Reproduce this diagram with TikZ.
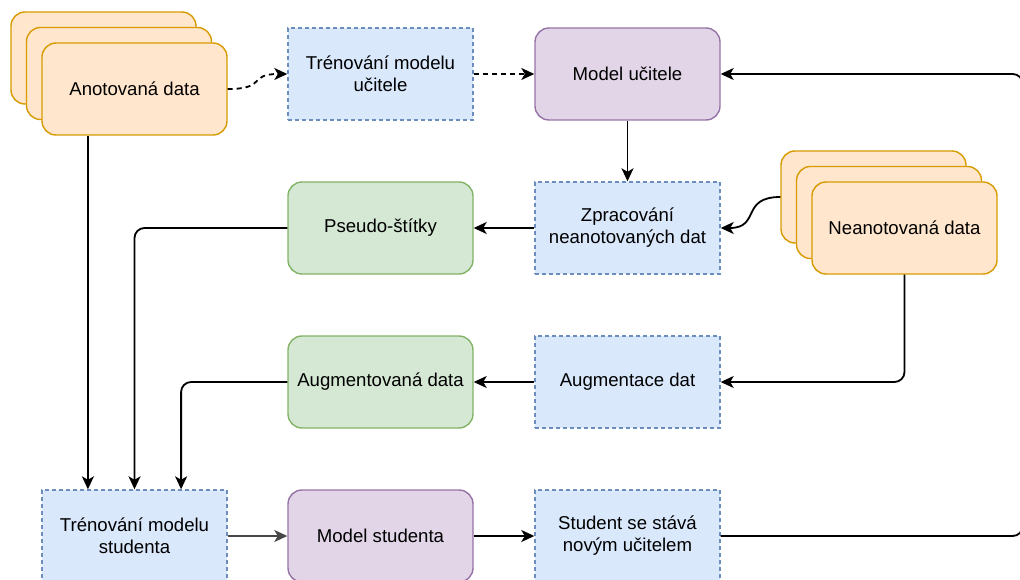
\documentclass[tikz,border=0pt]{standalone}
\usepackage{fontspec}
\setmainfont{Liberation Sans}
\usetikzlibrary{arrows.meta,calc}

\definecolor{orfill}{HTML}{FFE6CC}
\definecolor{ordraw}{HTML}{D79B00}
\definecolor{blfill}{HTML}{DAE8FC}
\definecolor{bldraw}{HTML}{6C8EBF}
\definecolor{pufill}{HTML}{E1D5E7}
\definecolor{pudraw}{HTML}{9673A6}
\definecolor{grfill}{HTML}{D5E8D4}
\definecolor{grdraw}{HTML}{82B366}

\tikzset{
  box/.style={minimum width=185pt, minimum height=92pt, inner sep=0pt,
    align=center, line width=1.4pt,
    font=\fontsize{18.6}{22}\selectfont},
  databox/.style={box, rounded corners=14pt, fill=orfill, draw=ordraw},
  stepbox/.style={box, fill=blfill, draw=bldraw, dash pattern=on 4pt off 3pt},
  modelbox/.style={box, rounded corners=14pt, fill=pufill, draw=pudraw},
  resultbox/.style={box, rounded corners=14pt, fill=grfill, draw=grdraw},
  tip/.style={-{Stealth[length=13pt,width=12pt,inset=3.5pt]}},
  flow/.style={line width=1.8pt, tip},
}

\begin{document}
\begin{tikzpicture}[x=1pt, y=-1pt]
\useasboundingbox (0,0) rectangle (1020,580);

% annotated data (stack of three)
\node[databox] (aB) at (103.5,58) {};
\node[databox] (aM) at (119,73.5) {};
\node[databox] (aF) at (134.5,89) {Anotovaná data};

% teacher branch
\node[stepbox]  (trainT) at (380.5,74) {Trénování modelu\\učitele};
\node[modelbox] (modelT) at (627.5,74) {Model učitele};
\node[stepbox]  (proc)   at (627.5,228) {Zpracování\\neanotovaných dat};
\node[resultbox] (pseudo) at (380.5,228) {Pseudo-štítky};

% unannotated data (stack of three)
\node[databox] (nB) at (873.5,197) {};
\node[databox] (nM) at (889,212.5) {};
\node[databox] (nF) at (904.5,228) {Neanotovaná data};

% augmentation
\node[stepbox]   (aug)  at (627.5,382) {Augmentace dat};
\node[resultbox] (augd) at (380.5,382) {Augmentovaná data};

% student branch
\node[stepbox]  (trainS) at (134.5,536) {Trénování modelu\\studenta};
\node[modelbox] (modelS) at (380.5,536) {Model studenta};
\node[stepbox]  (newT)   at (627.5,536) {Student se stává\\novým učitelem};

% inputs of the student training
\coordinate (inA) at ($(trainS.north west)!0.25!(trainS.north east)$);
\coordinate (inP) at (trainS.north);
\coordinate (inG) at ($(trainS.north west)!0.75!(trainS.north east)$);

% connectors
\draw[flow, dash pattern=on 5pt off 4pt] (aF.east) .. controls +(40,0) and +(-40,0) .. (trainT.west);
\draw[flow, dash pattern=on 5pt off 4pt] (trainT.east) -- (modelT.west);
\draw[flow] (modelT.south) -- (proc.north);
\draw[flow] (nB.west) .. controls +(-40,0) and +(40,0) .. (proc.east);
\draw[flow] (proc.west) -- (pseudo.east);
\draw[flow, rounded corners=10pt] (pseudo.west) -| (inP);
\draw[flow] (aF.south -| inA) -- (inA);
\draw[flow, rounded corners=10pt] (nF.south) |- (aug.east);
\draw[flow] (aug.west) -- (augd.east);
\draw[flow, rounded corners=10pt] (augd.west) -| (inG);
\draw[flow, draw=black!72, fill=black!72] (trainS.east) -- (modelS.west);
\draw[flow] (modelS.east) -- (newT.west);
\draw[flow, rounded corners=10pt] (newT.east) -- ++(302,0) |- (modelT.east);
\end{tikzpicture}
\end{document}
